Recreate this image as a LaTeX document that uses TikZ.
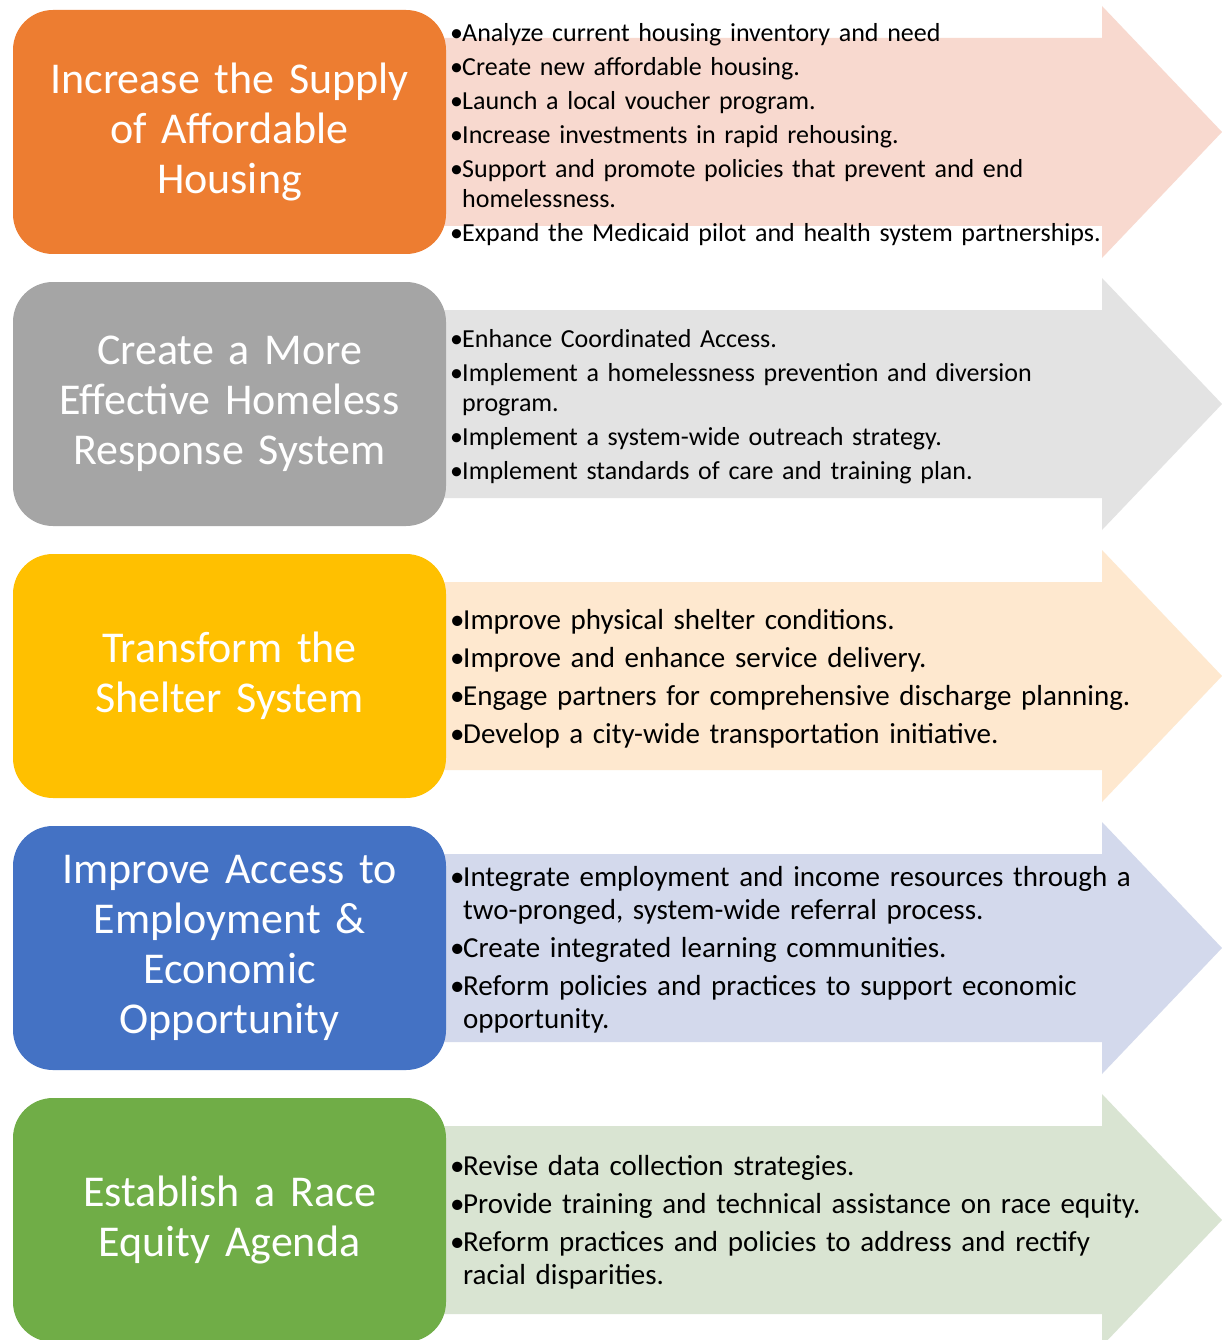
\documentclass[tikz,border=0pt]{standalone}
\usepackage{fontspec}
\setmainfont{Carlito}
\usepackage{xcolor}
\usetikzlibrary{positioning}

\definecolor{orangeg}{HTML}{ED7D31}
\definecolor{grayg}{HTML}{A5A5A5}
\definecolor{goldg}{HTML}{FFC000}
\definecolor{blueg}{HTML}{4472C4}
\definecolor{greeng}{HTML}{70AD47}
\definecolor{orangel}{HTML}{F8D9CF}
\definecolor{grayl}{HTML}{E3E3E3}
\definecolor{goldl}{HTML}{FEE8CF}
\definecolor{bluel}{HTML}{D3D9EC}
\definecolor{greenl}{HTML}{D9E4D2}

% bullet item with hanging indent
\newlength{\bulind}
\setlength{\bulind}{12pt}
\newcommand{\itm}[1]{\hangindent=\bulind\hangafter=1\noindent\makebox[\bulind][l]{\textbullet}#1\par}

% wide arrow behind each row, #1 = centre line, #2 = fill
\newcommand{\rowarrow}[2]{%
  \fill[#2] (440,#1-94) -- (1102,#1-94) -- (1102,#1-126) -- (1222,#1)
    -- (1102,#1+126) -- (1102,#1+94) -- (440,#1+94) -- cycle;}

\begin{document}
\begin{tikzpicture}[x=1pt, y=-1pt,
    goalbox/.style={rectangle, rounded corners=40pt, minimum width=433pt,
      minimum height=244pt, text width=420pt, align=center, text=white,
      font=\fontsize{44}{50}\selectfont},
    actions/.style={anchor=west, inner sep=0pt, text width=770pt,
      font=\fontsize{26}{30}\selectfont,
      execute at begin node={\setlength{\parskip}{4pt}\raggedright}},
    actionsbig/.style={actions, font=\fontsize{29}{33}\selectfont,
      execute at begin node={\setlength{\parskip}{5pt}\setlength{\bulind}{13pt}\raggedright}}]
      %\draw [dotted] (0,0) grid[step=100] (1222,1340);
      \useasboundingbox (0,0) rectangle (1222,1340);
      \fill [white] (0,0) rectangle (1222,1340);

      % arrows
      \rowarrow{132}{orangel}
      \rowarrow{404}{grayl}
      \rowarrow{676}{goldl}
      \rowarrow{948}{bluel}
      \rowarrow{1220}{greenl}

      % goals
      \node [goalbox, fill=orangeg] (supply)  at (229.5,  132) {Increase the Supply\\of Affordable\\Housing};
      \node [goalbox, fill=grayg]   (system)  at (229.5,  404) {Create a More\\Effective Homeless\\Response System};
      \node [goalbox, fill=goldg]   (shelter) at (229.5,  676) {Transform the\\Shelter System};
      \node [goalbox, fill=blueg]   (employ)  at (229.5,  948) {Improve Access to\\Employment \&\\Economic\\Opportunity};
      \node [goalbox, fill=greeng]  (equity)  at (229.5, 1220) {Establish a Race\\Equity Agenda};

      % action lists
      \node [actions]    (supplyl)  at (450,  135) {%
        \itm{Analyze current housing inventory and need}
        \itm{Create new affordable housing.}
        \itm{Launch a local voucher program.}
        \itm{Increase investments in rapid rehousing.}
        \itm{Support and promote policies that prevent and end\newline homelessness.}
        \itm{Expand the Medicaid pilot and health system partnerships.}};
      \node [actions]    (systeml)  at (450,  407) {%
        \itm{Enhance Coordinated Access.}
        \itm{Implement a homelessness prevention and diversion\newline program.}
        \itm{Implement a system-wide outreach strategy.}
        \itm{Implement standards of care and training plan.}};
      \node [actionsbig] (shelterl) at (450,  679) {%
        \itm{Improve physical shelter conditions.}
        \itm{Improve and enhance service delivery.}
        \itm{Engage partners for comprehensive discharge planning.}
        \itm{Develop a city-wide transportation initiative.}};
      \node [actionsbig] (employl)  at (450,  950) {%
        \itm{Integrate employment and income resources through a\newline two-pronged, system-wide referral process.}
        \itm{Create integrated learning communities.}
        \itm{Reform policies and practices to support economic\newline opportunity.}};
      \node [actionsbig] (equityl)  at (450, 1222) {%
        \itm{Revise data collection strategies.}
        \itm{Provide training and technical assistance on race equity.}
        \itm{Reform practices and policies to address and rectify\newline racial disparities.}};
\end{tikzpicture}
\end{document}
